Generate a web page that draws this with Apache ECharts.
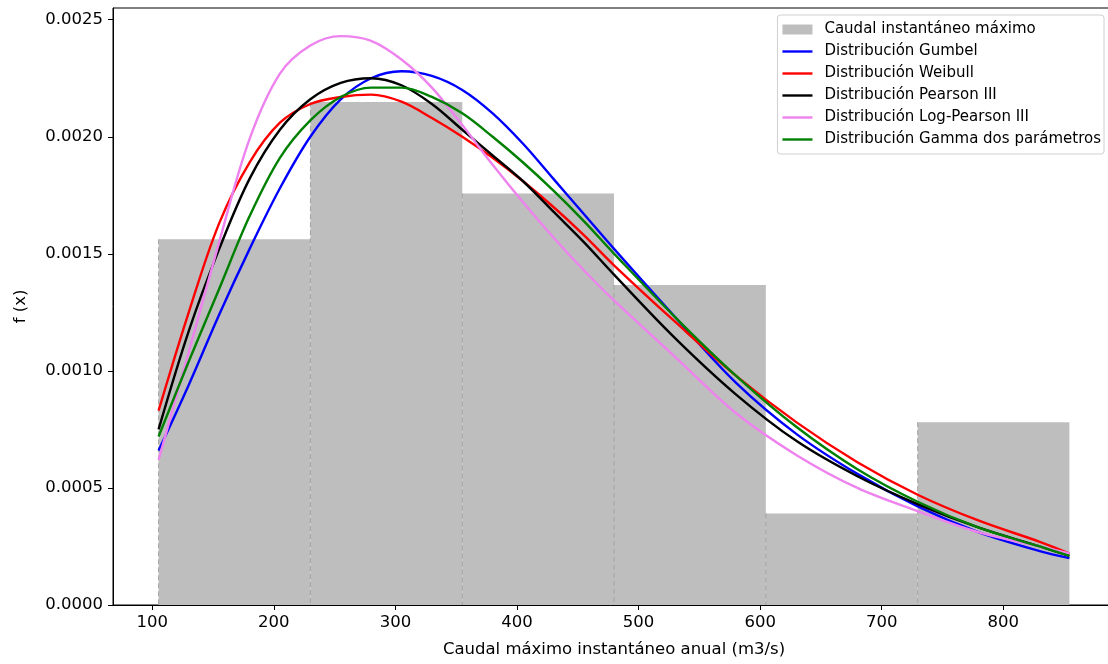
<!DOCTYPE html>
<html>
<head>
<meta charset="utf-8">
<script src="https://cdn.jsdelivr.net/npm/echarts@6/dist/echarts.min.js"></script>
<style>
    html, body { margin: 0; padding: 0; background: #fff; }
    #chart { width: 1108px; height: 664px; }
</style>
</head>
<body>
<div id="chart"></div>
<script>
/* ===== 数据 ===== */
const binEdges = [105.2, 230.1, 355.0, 479.8, 604.7, 729.6, 854.4];
const binDensity = [0.001562, 0.002148, 0.001758, 0.001367, 0.000391, 0.000781];

const xCurve = [105.2, 130, 155, 180, 205, 230, 255, 280, 305, 330, 355, 380, 405, 430, 455, 480, 530, 580, 630, 680, 730, 780, 830, 854.4];
const gumbel = [0.00066, 0.00094, 0.00124, 0.00152, 0.00178, 0.00200, 0.00216, 0.00225, 0.00228, 0.00226, 0.00220, 0.00210, 0.00197, 0.00182, 0.00167, 0.00152, 0.00123, 0.00095, 0.00073, 0.00056, 0.00042, 0.00031, 0.00023, 0.00020];
const weibull = [0.00083, 0.00125, 0.00163, 0.00189, 0.00206, 0.00214, 0.00217, 0.00218, 0.00215, 0.00208, 0.00200, 0.00191, 0.00181, 0.00170, 0.00158, 0.00145, 0.00121, 0.00098, 0.00078, 0.00061, 0.00047, 0.00036, 0.00027, 0.00022];
const pearson3 = [0.00075, 0.00117, 0.00152, 0.00182, 0.00203, 0.00216, 0.00223, 0.00225, 0.00222, 0.00214, 0.00203, 0.00192, 0.00181, 0.00168, 0.00155, 0.00141, 0.00114, 0.00090, 0.00070, 0.00055, 0.00043, 0.00033, 0.00025, 0.00021];
const logPearson3 = [0.00062, 0.00108, 0.00155, 0.00199, 0.00227, 0.00239, 0.00243, 0.00241, 0.00233, 0.00221, 0.00205, 0.00188, 0.00172, 0.00157, 0.00143, 0.00130, 0.00106, 0.00082, 0.00064, 0.00050, 0.00040, 0.00031, 0.00025, 0.00022];
const gamma2 = [0.00072, 0.00104, 0.00135, 0.00166, 0.00191, 0.00207, 0.00217, 0.00221, 0.00221, 0.00217, 0.00210, 0.00200, 0.00189, 0.00177, 0.00164, 0.00150, 0.00123, 0.00098, 0.00076, 0.00058, 0.00044, 0.00033, 0.00025, 0.00021];

const xTicks = [100, 200, 300, 400, 500, 600, 700, 800];
const yTicks = [0, 0.0005, 0.0010, 0.0015, 0.0020, 0.0025];

const FONT = "DejaVu Sans";
const LINE_ICON = "path://M0,0H30V2.4H0Z";

/* ===== 辅助 ===== */
function pairs(ys) {
    return xCurve.map((x, i) => [x, ys[i]]);
}

function curve(name, ys, color) {
    return {
        name: name,
        type: "line",
        data: pairs(ys),
        smooth: 0.35,
        symbol: "none",
        lineStyle: { color: color, width: 2.4 },
        itemStyle: { color: color },
        z: 3,
    };
}

const histData = binDensity.map((d, i) => [binEdges[i], binEdges[i + 1], d]);

function renderBin(params, api) {
    const p0 = api.coord([api.value(0), api.value(2)]);
    const p1 = api.coord([api.value(1), 0]);
    return {
        type: "group",
        children: [
            {
                type: "rect",
                shape: { x: p0[0], y: p0[1], width: p1[0] - p0[0], height: p1[1] - p0[1] },
                style: { fill: "#bebebe" },
            },
            {
                type: "line",
                shape: { x1: p0[0], y1: p0[1], x2: p0[0], y2: p1[1] },
                style: { stroke: "#a3a3a3", lineWidth: 1, lineDash: [5, 3] },
            },
        ],
    };
}

/* ===== 图表 ===== */
const chart = echarts.init(document.getElementById("chart"));

chart.setOption({
    animation: false,
    backgroundColor: "#fff",
    textStyle: { fontFamily: FONT },
    grid: {
        left: 113, top: 8, width: 1002, bottom: 59,
        outerBoundsMode: "none",
        containLabel: false,
        show: true, borderColor: "#000", borderWidth: 1,
    },
    legend: {
        orient: "vertical",
        right: 4, top: 15,
        itemWidth: 30, itemHeight: 10, itemGap: 7,
        padding: [7, 3, 7, 5],
        borderColor: "#d0d0d0", borderWidth: 1, borderRadius: 3,
        backgroundColor: "#fff",
        textStyle: { fontFamily: FONT, fontSize: 15, color: "#000", padding: [0, 0, 0, 7] },
        data: [
            { name: "Caudal instantáneo máximo", icon: "rect" },
            { name: "Distribución Gumbel", icon: LINE_ICON },
            { name: "Distribución Weibull", icon: LINE_ICON },
            { name: "Distribución Pearson III", icon: LINE_ICON },
            { name: "Distribución Log-Pearson III", icon: LINE_ICON },
            { name: "Distribución Gamma dos parámetros", icon: LINE_ICON },
        ],
    },
    xAxis: {
        type: "value",
        min: 67.7, max: 891.9,
        name: "Caudal máximo instantáneo anual (m3/s)",
        nameLocation: "middle", nameGap: 36,
        nameTextStyle: { fontFamily: FONT, fontSize: 16.5, color: "#000" },
        axisLine: { show: true, lineStyle: { color: "#000", width: 1 } },
        axisTick: { show: true, length: 5, lineStyle: { color: "#000" }, customValues: xTicks },
        axisLabel: { fontSize: 16.5, color: "#000", margin: 9, customValues: xTicks },
        splitLine: { show: false },
    },
    yAxis: {
        type: "value",
        min: 0, max: 0.00255,
        name: "f (x)",
        nameLocation: "middle", nameGap: 84,
        nameTextStyle: { fontFamily: FONT, fontSize: 16.5, color: "#000" },
        axisLine: { show: true, lineStyle: { color: "#000", width: 1 } },
        axisTick: { show: true, length: 5, lineStyle: { color: "#000" }, customValues: yTicks },
        axisLabel: {
            fontSize: 16.5, color: "#000", margin: 10, customValues: yTicks,
            formatter: v => v.toFixed(4),
        },
        splitLine: { show: false },
    },
    series: [
        {
            name: "Caudal instantáneo máximo",
            type: "custom",
            renderItem: renderBin,
            data: histData,
            encode: { x: [0, 1], y: 2 },
            itemStyle: { color: "#bebebe" },
            z: 1,
        },
        curve("Distribución Gumbel", gumbel, "#0000ff"),
        curve("Distribución Weibull", weibull, "#ff0000"),
        curve("Distribución Pearson III", pearson3, "#000000"),
        curve("Distribución Log-Pearson III", logPearson3, "#ee82ee"),
        curve("Distribución Gamma dos parámetros", gamma2, "#008000"),
    ],
});
</script>
</body>
</html>
